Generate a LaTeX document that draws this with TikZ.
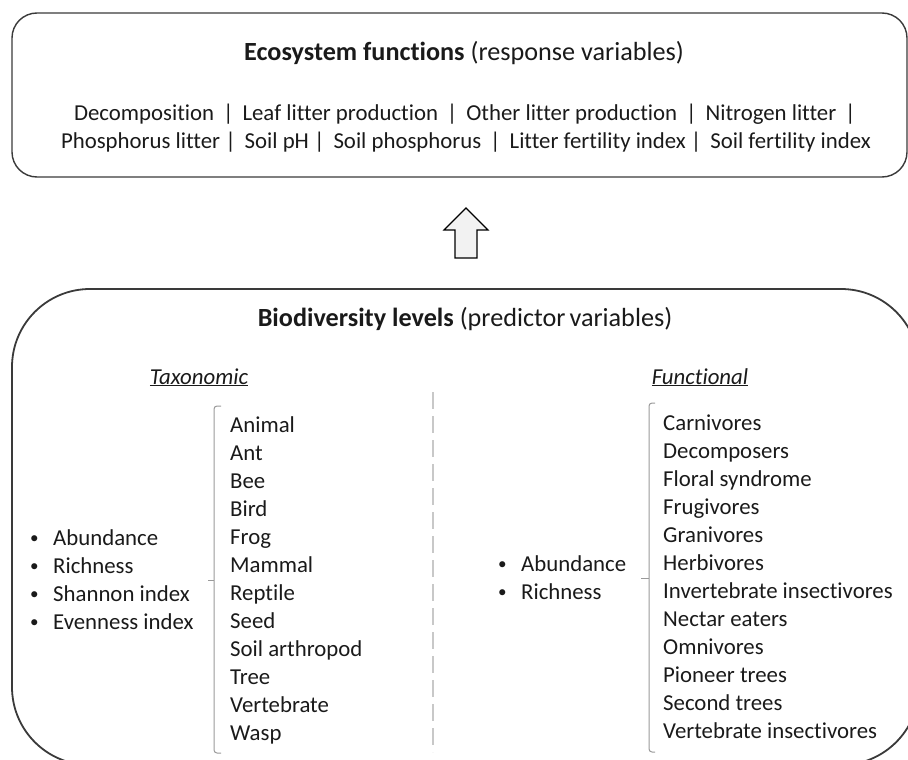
\documentclass[tikz,border=0pt]{standalone}
\usepackage{graphicx}
\usepackage{fontspec}
\setmainfont{Carlito}[Ligatures=NoCommon]
\definecolor{textcol}{HTML}{1A1A1A}
\definecolor{boxcol}{HTML}{3A3A3A}
\definecolor{brackcol}{HTML}{9A9A9A}
\definecolor{dashcol}{HTML}{C8C8C8}
\definecolor{arrowfill}{HTML}{F2F2F2}
\newcommand{\mybul}{\makebox[24pt][l]{\hspace{1pt}\raisebox{1.2pt}{\scalebox{0.75}{•}}}}
\begin{document}
\begin{tikzpicture}[x=1pt,y=-1pt,
  txt/.style={font=\fontsize{22.8}{28}\selectfont, text=textcol, inner sep=0pt},
  ttl/.style={font=\fontsize{26.2}{30}\selectfont, text=textcol, inner sep=0pt},
  topframe/.style={draw=boxcol, line width=1.4pt, rounded corners=25pt},
  botframe/.style={draw=boxcol, line width=1.8pt, rounded corners=78pt},
  brack/.style={draw=brackcol, line width=1pt, rounded corners=3pt},
  dashline/.style={draw=dashcol, line width=1.8pt, dash pattern=on 17pt off 7pt},
  blockarrow/.style={draw=black, line width=1.1pt, fill=arrowfill, line join=miter}]
\useasboundingbox (0,0) rectangle (908,760);
\clip (0,0) rectangle (908,760);
% frames
\draw[topframe] (12,13) rectangle (907,177);
\draw[botframe] (12,289) rectangle (919,765);
% top texts
\node[ttl, anchor=base] (ttl1) at (464,60) {\textbf{Ecosystem functions} (response variables)};
\node[txt, anchor=base] (ef1) at (465,120) {Decomposition \,|\, Leaf litter production \,|\, Other litter production \,|\, Nitrogen litter \,|};
\node[txt, anchor=base] (ef2) at (466,148) {Phosphorus litter |\, Soil pH |\, Soil phosphorus \,|\, Litter fertility index |\, Soil fertility index};
% block arrow
\coordinate (tip) at (466,208);
\draw[blockarrow] (tip) -- (488,230) -- (477,230) -- (477,258) -- (455,258) -- (455,230) -- (444,230) -- cycle;
% bottom title
\node[ttl, anchor=base] (ttl2) at (465,326) {\textbf{Biodiversity levels} (predictor\hspace{-2pt} variables)};
\node[txt, anchor=base] (taxh) at (199,384) {\underline{\textit{Taxonomic}}};
\node[txt, anchor=base] (funh) at (700,384) {\underline{\textit{Functional}}};
% dashed separator
\coordinate (dtop) at (433,392);
\coordinate (dbot) at (433,752);
\draw[dashline] (dtop) -- (dbot);
% taxonomic list
\foreach \t [count=\i] in {Animal,Ant,Bee,Bird,Frog,Mammal,Reptile,Seed,Soil arthropod,Tree,Vertebrate,Wasp}
  \node[txt, anchor=base west] (tx\i) at (230,{432+28*(\i-1)}) {\t};
% functional list
\foreach \t [count=\i] in {Carnivores,Decomposers,Floral syndrome,Frugivores,Granivores,Herbivores,Invertebrate insectivores,Nectar eaters,Omnivores,Pioneer trees,Second trees,Vertebrate insectivores}
  \node[txt, anchor=base west] (fn\i) at (663,{430+28*(\i-1)}) {\t};
% taxonomic metrics
\foreach \t [count=\i] in {Abundance,Richness,Shannon index,Evenness index}
  \node[txt, anchor=base west] (tm\i) at (29,{545+28*(\i-1)}) {\mybul\t};
% functional metrics
\foreach \t [count=\i] in {Abundance,Richness}
  \node[txt, anchor=base west] (fm\i) at (497,{571+28*(\i-1)}) {\mybul\t};
% brackets
\draw[brack] (221,406) -| (214,753) -- (221,753);
\draw[brack] (214,580) -- (208,580);
\draw[brack] (655,403) -| (649,752) -- (655,752);
\draw[brack] (649,578) -- (641,578);
\end{tikzpicture}
\end{document}
